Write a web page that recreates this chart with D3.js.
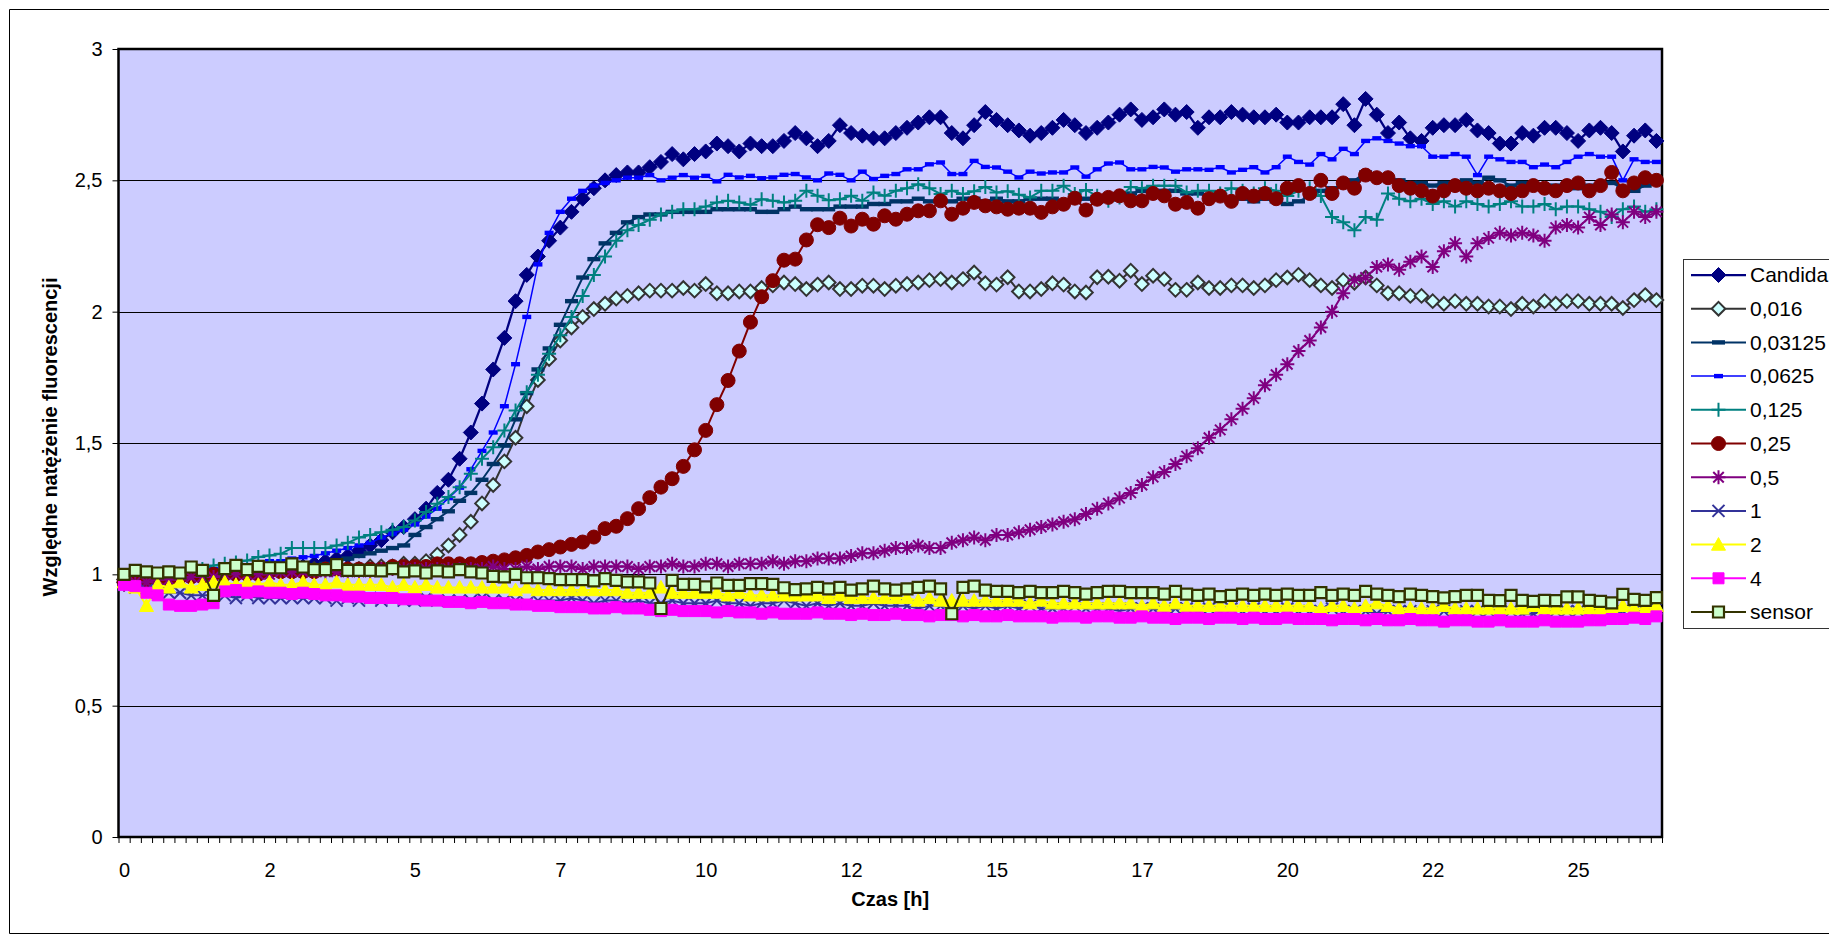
<!DOCTYPE html>
<html>
<head>
<meta charset="utf-8">
<script src="https://cdn.jsdelivr.net/npm/d3@7"></script>
<style>
  body { margin: 0; background: #fff; }
  svg { display: block; }
  text { font-family: "Liberation Sans", Arial, sans-serif; fill: #000; }
</style>
</head>
<body>
<svg id="chart" width="1829" height="943"></svg>
<script>
// Fluorescence readings, one value per sampling interval (138 samples)
const candida = [0.97,0.96,0.97,0.97,0.98,0.98,0.99,0.99,1.00,1.00,
1.00,1.01,1.01,1.02,1.02,1.03,1.03,1.04,1.05,1.06,
1.07,1.09,1.11,1.13,1.16,1.18,1.21,1.25,1.31,1.36,
1.44,1.54,1.65,1.78,1.90,2.04,2.14,2.21,2.27,2.32,
2.38,2.43,2.47,2.50,2.52,2.53,2.53,2.55,2.57,2.60,
2.58,2.60,2.61,2.64,2.63,2.61,2.64,2.63,2.63,2.65,
2.68,2.66,2.63,2.65,2.71,2.68,2.67,2.66,2.66,2.68,
2.70,2.72,2.74,2.74,2.68,2.66,2.71,2.76,2.73,2.71,
2.69,2.67,2.68,2.70,2.73,2.71,2.68,2.70,2.72,2.75,
2.77,2.73,2.74,2.77,2.75,2.76,2.70,2.74,2.74,2.76,
2.75,2.74,2.74,2.75,2.72,2.72,2.74,2.74,2.74,2.79,
2.71,2.81,2.75,2.68,2.72,2.66,2.65,2.70,2.71,2.71,
2.73,2.69,2.68,2.64,2.64,2.68,2.67,2.70,2.70,2.68,
2.65,2.69,2.70,2.68,2.61,2.67,2.69,2.65];

const c0016 = [0.98,0.98,0.98,0.99,0.99,0.99,1.00,1.00,1.00,1.00,
1.00,1.00,1.01,1.01,1.01,1.01,1.01,1.02,1.02,1.02,
1.02,1.02,1.03,1.03,1.03,1.04,1.04,1.05,1.075,1.11,
1.15,1.20,1.27,1.34,1.43,1.52,1.64,1.74,1.82,1.89,
1.94,1.98,2.01,2.03,2.05,2.06,2.07,2.08,2.08,2.08,
2.09,2.08,2.105,2.07,2.07,2.077,2.077,2.09,2.10,2.111,
2.105,2.086,2.103,2.111,2.086,2.086,2.099,2.099,2.086,2.099,
2.105,2.111,2.12,2.124,2.111,2.124,2.149,2.108,2.103,2.131,
2.077,2.077,2.086,2.108,2.103,2.077,2.073,2.131,2.133,2.118,
2.156,2.105,2.137,2.124,2.083,2.083,2.111,2.09,2.09,2.10,
2.10,2.09,2.10,2.12,2.13,2.14,2.12,2.10,2.09,2.12,
2.11,2.13,2.10,2.07,2.07,2.06,2.06,2.04,2.03,2.04,
2.03,2.03,2.02,2.02,2.01,2.03,2.02,2.04,2.03,2.04,
2.04,2.03,2.03,2.03,2.014,2.044,2.063,2.044];

const c03125 = [0.97,0.97,0.97,0.98,0.98,0.98,0.99,0.99,0.99,1.00,
1.00,1.00,1.00,1.01,1.01,1.02,1.02,1.03,1.04,1.05,
1.06,1.07,1.08,1.09,1.10,1.11,1.15,1.18,1.21,1.24,
1.28,1.31,1.36,1.42,1.49,1.59,1.69,1.78,1.86,1.95,
2.04,2.13,2.20,2.26,2.30,2.34,2.36,2.37,2.37,2.38,
2.38,2.38,2.38,2.39,2.39,2.39,2.39,2.38,2.38,2.39,
2.40,2.39,2.39,2.39,2.40,2.40,2.40,2.41,2.41,2.42,
2.42,2.43,2.42,2.42,2.42,2.43,2.43,2.42,2.43,2.42,
2.42,2.43,2.43,2.43,2.42,2.42,2.43,2.42,2.43,2.43,
2.45,2.46,2.45,2.46,2.46,2.45,2.45,2.44,2.44,2.43,
2.43,2.42,2.43,2.42,2.41,2.42,2.44,2.46,2.47,2.48,
2.50,2.53,2.52,2.51,2.50,2.49,2.49,2.48,2.49,2.48,
2.50,2.49,2.51,2.50,2.48,2.49,2.48,2.47,2.48,2.48,
2.47,2.48,2.48,2.49,2.47,2.46,2.48,2.49];

const c0625 = [0.98,0.98,0.99,0.99,1.00,1.00,1.01,1.01,1.02,1.02,
1.03,1.03,1.04,1.05,1.05,1.06,1.065,1.07,1.08,1.09,
1.10,1.11,1.12,1.14,1.155,1.17,1.19,1.22,1.25,1.29,
1.33,1.40,1.47,1.54,1.64,1.80,1.98,2.18,2.30,2.38,
2.43,2.46,2.48,2.49,2.50,2.51,2.51,2.52,2.50,2.51,
2.52,2.51,2.517,2.496,2.521,2.511,2.517,2.508,2.511,2.521,
2.524,2.511,2.50,2.526,2.521,2.50,2.533,2.505,2.517,2.524,
2.542,2.542,2.561,2.568,2.524,2.524,2.574,2.551,2.549,2.533,
2.511,2.533,2.526,2.53,2.53,2.549,2.514,2.542,2.564,2.568,
2.542,2.542,2.551,2.549,2.533,2.542,2.542,2.54,2.55,2.53,
2.54,2.55,2.53,2.55,2.59,2.57,2.56,2.60,2.58,2.62,
2.60,2.65,2.66,2.65,2.64,2.63,2.63,2.59,2.59,2.60,
2.59,2.52,2.59,2.58,2.57,2.57,2.55,2.56,2.55,2.57,
2.59,2.60,2.59,2.59,2.50,2.58,2.57,2.57];

const c125 = [0.97,0.98,0.99,0.99,1.00,1.00,1.01,1.02,1.034,1.04,
1.045,1.053,1.066,1.072,1.078,1.10,1.10,1.10,1.10,1.11,
1.12,1.14,1.15,1.16,1.17,1.18,1.205,1.237,1.269,1.294,
1.332,1.383,1.44,1.484,1.548,1.624,1.693,1.76,1.84,1.91,
1.98,2.06,2.14,2.21,2.27,2.31,2.33,2.35,2.37,2.38,
2.39,2.39,2.40,2.416,2.422,2.416,2.407,2.428,2.422,2.416,
2.422,2.46,2.441,2.424,2.428,2.441,2.422,2.454,2.441,2.46,
2.47,2.485,2.47,2.448,2.46,2.448,2.458,2.475,2.454,2.458,
2.445,2.435,2.46,2.46,2.479,2.448,2.463,2.441,2.422,2.435,
2.475,2.47,2.479,2.479,2.479,2.454,2.46,2.46,2.45,2.47,
2.46,2.45,2.47,2.46,2.44,2.46,2.47,2.44,2.36,2.34,
2.31,2.36,2.35,2.45,2.43,2.42,2.43,2.41,2.42,2.40,
2.42,2.41,2.40,2.41,2.42,2.40,2.40,2.41,2.39,2.40,
2.40,2.39,2.38,2.36,2.39,2.40,2.38,2.39];

const c25 = [0.97,0.97,0.98,0.98,0.98,0.99,0.99,0.99,1.00,1.00,
1.00,1.00,1.00,1.01,1.01,1.01,1.01,1.01,1.02,1.02,
1.02,1.02,1.02,1.02,1.03,1.03,1.03,1.03,1.04,1.04,
1.04,1.04,1.045,1.05,1.055,1.063,1.072,1.085,1.094,1.104,
1.114,1.123,1.142,1.174,1.183,1.212,1.25,1.292,1.332,1.364,
1.411,1.474,1.548,1.646,1.738,1.85,1.96,2.057,2.118,2.196,
2.20,2.273,2.331,2.32,2.356,2.326,2.352,2.333,2.365,2.352,
2.371,2.384,2.384,2.422,2.371,2.394,2.416,2.403,2.399,2.39,
2.394,2.394,2.378,2.399,2.409,2.432,2.387,2.428,2.435,2.441,
2.422,2.422,2.45,2.441,2.409,2.416,2.394,2.43,2.44,2.42,
2.45,2.44,2.45,2.43,2.47,2.48,2.45,2.50,2.45,2.49,
2.47,2.52,2.51,2.51,2.48,2.47,2.46,2.44,2.46,2.48,
2.47,2.46,2.47,2.46,2.45,2.46,2.48,2.47,2.46,2.48,
2.49,2.46,2.48,2.53,2.46,2.49,2.51,2.50];

const c5 = [0.96,0.97,0.97,0.98,0.98,0.98,0.99,0.99,0.99,1.00,
1.00,1.00,1.00,1.00,1.01,1.01,1.01,1.01,1.01,1.01,
1.01,1.01,1.01,1.02,1.02,1.02,1.02,1.02,1.02,1.02,
1.02,1.02,1.02,1.03,1.02,1.02,1.03,1.02,1.03,1.03,
1.03,1.02,1.03,1.03,1.03,1.03,1.02,1.03,1.03,1.04,
1.03,1.03,1.04,1.04,1.03,1.04,1.04,1.04,1.05,1.04,
1.05,1.05,1.06,1.06,1.06,1.07,1.08,1.08,1.09,1.10,
1.10,1.11,1.10,1.10,1.12,1.13,1.14,1.13,1.15,1.15,
1.16,1.17,1.18,1.19,1.20,1.21,1.23,1.25,1.27,1.29,
1.31,1.34,1.37,1.39,1.42,1.45,1.48,1.52,1.55,1.59,
1.63,1.67,1.72,1.76,1.80,1.85,1.89,1.94,2.00,2.07,
2.12,2.13,2.17,2.18,2.16,2.19,2.21,2.17,2.23,2.26,
2.21,2.26,2.28,2.30,2.29,2.30,2.29,2.27,2.32,2.33,
2.32,2.36,2.33,2.37,2.34,2.38,2.36,2.38];

const c1 = [0.96,0.95,0.94,0.93,0.93,0.93,0.92,0.92,0.92,0.92,
0.91,0.92,0.91,0.91,0.91,0.91,0.91,0.91,0.91,0.90,
0.91,0.90,0.91,0.90,0.91,0.90,0.90,0.91,0.90,0.90,
0.90,0.90,0.91,0.90,0.90,0.90,0.89,0.90,0.90,0.90,
0.91,0.90,0.89,0.90,0.90,0.89,0.90,0.89,0.89,0.90,
0.89,0.89,0.89,0.90,0.89,0.89,0.88,0.89,0.89,0.90,
0.89,0.88,0.89,0.88,0.89,0.88,0.88,0.89,0.88,0.88,
0.88,0.87,0.88,0.88,0.87,0.88,0.87,0.88,0.87,0.88,
0.87,0.88,0.87,0.87,0.87,0.88,0.87,0.87,0.87,0.86,
0.87,0.87,0.87,0.86,0.87,0.87,0.86,0.87,0.86,0.87,
0.86,0.87,0.86,0.86,0.87,0.86,0.86,0.86,0.87,0.86,
0.86,0.86,0.85,0.86,0.86,0.86,0.85,0.86,0.86,0.85,
0.86,0.86,0.86,0.87,0.86,0.85,0.85,0.86,0.86,0.86,
0.86,0.86,0.87,0.85,0.86,0.86,0.86,0.87];

const c2 = [0.97,0.95,0.88,0.96,0.95,0.97,0.95,0.96,0.97,0.97,
0.96,0.97,0.96,0.97,0.96,0.96,0.97,0.96,0.96,0.97,
0.96,0.96,0.96,0.96,0.95,0.96,0.95,0.96,0.95,0.95,
0.95,0.95,0.95,0.95,0.95,0.94,0.95,0.94,0.94,0.94,
0.94,0.94,0.94,0.94,0.94,0.93,0.93,0.93,0.95,0.93,
0.93,0.93,0.93,0.93,0.92,0.93,0.92,0.92,0.92,0.92,
0.92,0.92,0.92,0.91,0.92,0.91,0.91,0.91,0.91,0.91,
0.91,0.90,0.91,0.90,0.90,0.90,0.90,0.90,0.90,0.90,
0.90,0.89,0.90,0.89,0.89,0.89,0.89,0.89,0.89,0.89,
0.89,0.88,0.89,0.88,0.89,0.88,0.88,0.88,0.88,0.88,
0.88,0.88,0.88,0.88,0.88,0.88,0.88,0.87,0.88,0.88,
0.87,0.88,0.89,0.88,0.87,0.87,0.87,0.87,0.88,0.87,
0.87,0.87,0.87,0.87,0.87,0.87,0.88,0.87,0.87,0.87,
0.87,0.87,0.87,0.87,0.88,0.87,0.87,0.88];

const c4 = [0.96,0.955,0.93,0.92,0.885,0.88,0.88,0.885,0.89,0.935,
0.94,0.93,0.935,0.93,0.93,0.925,0.93,0.925,0.92,0.92,
0.915,0.915,0.91,0.91,0.91,0.905,0.905,0.90,0.90,0.895,
0.895,0.89,0.895,0.89,0.89,0.885,0.885,0.88,0.88,0.875,
0.875,0.875,0.87,0.87,0.875,0.87,0.87,0.865,0.86,0.865,
0.86,0.86,0.86,0.855,0.86,0.855,0.855,0.85,0.855,0.85,
0.85,0.85,0.855,0.85,0.85,0.845,0.85,0.845,0.845,0.85,
0.845,0.845,0.84,0.845,0.845,0.84,0.845,0.84,0.84,0.845,
0.84,0.84,0.84,0.835,0.84,0.84,0.835,0.84,0.84,0.835,
0.835,0.84,0.835,0.835,0.83,0.835,0.835,0.83,0.835,0.835,
0.83,0.835,0.83,0.83,0.835,0.83,0.83,0.83,0.825,0.83,
0.83,0.825,0.83,0.825,0.825,0.83,0.825,0.825,0.82,0.825,
0.825,0.82,0.82,0.825,0.82,0.82,0.82,0.825,0.82,0.82,
0.82,0.825,0.825,0.83,0.83,0.835,0.83,0.84];

const sensor = [1.00,1.015,1.009,1.005,1.009,1.005,1.028,1.015,0.92,1.022,
1.034,1.018,1.03,1.025,1.025,1.04,1.028,1.018,1.018,1.037,
1.015,1.015,1.015,1.013,1.022,1.009,1.013,1.005,1.013,1.009,
1.018,1.009,1.005,0.992,0.99,1.0,0.987,0.987,0.984,0.98,
0.98,0.98,0.975,0.984,0.977,0.971,0.971,0.967,0.87,0.977,
0.962,0.962,0.952,0.967,0.958,0.958,0.965,0.965,0.962,0.949,
0.942,0.945,0.95,0.945,0.95,0.94,0.945,0.955,0.945,0.94,
0.945,0.95,0.955,0.945,0.85,0.95,0.955,0.94,0.935,0.935,
0.93,0.935,0.93,0.93,0.935,0.93,0.925,0.93,0.935,0.935,
0.93,0.93,0.93,0.925,0.935,0.925,0.92,0.925,0.915,0.92,
0.925,0.92,0.925,0.92,0.925,0.92,0.92,0.93,0.92,0.925,
0.92,0.935,0.925,0.92,0.915,0.925,0.92,0.915,0.91,0.915,
0.92,0.92,0.901,0.90,0.92,0.901,0.897,0.901,0.90,0.914,
0.914,0.901,0.897,0.891,0.924,0.905,0.901,0.911];

// Series names as shown in the legend, in drawing order
const seriesNames = ["Candida", "0,016", "0,03125", "0,0625", "0,125", "0,25", "0,5", "1", "2", "4", "sensor"];
const seriesValues = [candida, c0016, c03125, c0625, c125, c25, c5, c1, c2, c4, sensor];

// Time axis: one label every 13 samples
const timeLabels = ["0", "2", "5", "7", "10", "12", "15", "17", "20", "22", "25"];
const labelEvery = 13;
const yTicks = [0, 0.5, 1, 1.5, 2, 2.5, 3];

// Visual styling per series
const styles = [
  { line: "#000080", width: 2.25, marker: "diamond",  fill: "#000080", stroke: "#000080", sw: 1, size: 7.5 },
  { line: "#333333", width: 2,    marker: "diamond",  fill: "#CCFFFF", stroke: "#333333", sw: 2, size: 6.8 },
  { line: "#003366", width: 2,    marker: "dash",     fill: "#003366", stroke: "none",    sw: 0, size: 6.5 },
  { line: "#0000FF", width: 1.5,  marker: "dash",     fill: "#0000FF", stroke: "none",    sw: 0, size: 4.5 },
  { line: "#008080", width: 2,    marker: "plus",     fill: "none",    stroke: "#008080", sw: 2, size: 7 },
  { line: "#800000", width: 2,    marker: "circle",   fill: "#800000", stroke: "#800000", sw: 1, size: 7 },
  { line: "#800080", width: 2,    marker: "star",     fill: "none",    stroke: "#800080", sw: 2, size: 7 },
  { line: "#333399", width: 2,    marker: "x",        fill: "none",    stroke: "#333399", sw: 2, size: 6 },
  { line: "#FFFF00", width: 2,    marker: "triangle", fill: "#FFFF00", stroke: "#FFFF00", sw: 1, size: 7 },
  { line: "#FF00FF", width: 2,    marker: "square",   fill: "#FF00FF", stroke: "#FF00FF", sw: 1, size: 5.5 },
  { line: "#333300", width: 2,    marker: "square",   fill: "#CCFFCC", stroke: "#333300", sw: 2.2, size: 5.5 }
];

function markerPath(type, s) {
  switch (type) {
    case "diamond":  return `M0,${-s}L${s},0L0,${s}L${-s},0Z`;
    case "square":   return `M${-s},${-s}H${s}V${s}H${-s}Z`;
    case "triangle": return `M0,${-s}L${s},${s * 0.8}L${-s},${s * 0.8}Z`;
    case "circle":   return `M${s},0A${s},${s} 0 1,1 ${-s},0A${s},${s} 0 1,1 ${s},0Z`;
    case "dash":     return `M${-s},-2.2H${s}V2.2H${-s}Z`;
    case "plus":     return `M${-s},0H${s}M0,${-s}V${s}`;
    case "x":        return `M${-s},${-s}L${s},${s}M${-s},${s}L${s},${-s}`;
    case "star": {
      const d = s * 0.75;
      return `M${-s},0H${s}M0,${-s}V${s}M${-d},${-d}L${d},${d}M${-d},${d}L${d},${-d}`;
    }
  }
}

const svg = d3.select("#chart");
const L = 118.5, R = 1662, T = 49, B = 837;
const n = candida.length;

const x = d3.scalePoint().domain(d3.range(n)).range([L, R]).padding(0.5);
const xEdge = d3.scaleLinear().domain([0, n]).range([L, R]);
const y = d3.scaleLinear().domain([0, 3]).range([B, T]);

// Chart frame
svg.append("path")
  .attr("d", "M1829,9.5H9.5V933.5H1829")
  .attr("fill", "none").attr("stroke", "#000").attr("stroke-width", 1);

// Plot area
svg.append("rect")
  .attr("x", L).attr("y", T).attr("width", R - L).attr("height", B - T)
  .attr("fill", "#CCCCFF");

svg.append("g").selectAll("line")
  .data(yTicks.filter(v => v > 0 && v < 3))
  .join("line")
  .attr("x1", L).attr("x2", R)
  .attr("y1", d => Math.round(y(d)) + 0.5).attr("y2", d => Math.round(y(d)) + 0.5)
  .attr("stroke", "#000").attr("stroke-width", 1);

svg.append("rect")
  .attr("x", L).attr("y", T).attr("width", R - L).attr("height", B - T)
  .attr("fill", "none").attr("stroke", "#000").attr("stroke-width", 2.5);

// Y axis
const yAxis = svg.append("g")
  .attr("transform", `translate(${L},0)`)
  .call(d3.axisLeft(y).tickValues(yTicks).tickSize(6).tickPadding(10)
    .tickFormat(d => String(d).replace(".", ",")));
yAxis.select(".domain").remove();
yAxis.selectAll("text").attr("font-size", 20).attr("font-family", "Liberation Sans, Arial, sans-serif");
yAxis.selectAll("line").attr("stroke", "#000");

// X axis: tick marks at sample boundaries, labels under every 13th sample
const xTicks = svg.append("g")
  .attr("transform", `translate(0,${B})`)
  .call(d3.axisBottom(xEdge).tickValues(d3.range(n + 1)).tickSize(6).tickFormat(""));
xTicks.select(".domain").remove();
xTicks.selectAll("line").attr("stroke", "#000");

const labelIdx = timeLabels.map((_, k) => k * labelEvery);
const xLabels = svg.append("g")
  .attr("transform", `translate(0,${B})`)
  .call(d3.axisBottom(x).tickValues(labelIdx).tickSize(0).tickPadding(26)
    .tickFormat((d, k) => timeLabels[k]));
xLabels.select(".domain").remove();
xLabels.selectAll("text").attr("font-size", 20).attr("font-family", "Liberation Sans, Arial, sans-serif");

// Axis titles
svg.append("text")
  .attr("x", (L + R) / 2).attr("y", 906)
  .attr("text-anchor", "middle")
  .attr("font-size", 20).attr("font-weight", "bold")
  .text("Czas [h]");

svg.append("text")
  .attr("transform", "translate(56.5,437) rotate(-90)")
  .attr("text-anchor", "middle")
  .attr("font-size", 20).attr("font-weight", "bold")
  .text("Względne natężenie fluorescencji");

// Series
const line = d3.line().x((d, i) => x(i)).y(d => y(d));
seriesValues.forEach((vals, k) => {
  const st = styles[k];
  const g = svg.append("g").attr("class", "series");
  g.append("path")
    .attr("d", line(vals))
    .attr("fill", "none")
    .attr("stroke", st.line)
    .attr("stroke-width", st.width)
    .attr("stroke-linejoin", "round");
  g.selectAll("path.mk")
    .data(vals)
    .join("path")
    .attr("class", "mk")
    .attr("transform", (d, i) => `translate(${x(i)},${y(d)})`)
    .attr("d", markerPath(st.marker, st.size))
    .attr("fill", st.fill)
    .attr("stroke", st.stroke)
    .attr("stroke-width", st.sw);
});

// Legend
const lg = svg.append("g");
lg.append("rect")
  .attr("x", 1683.5).attr("y", 259.5).attr("width", 200).attr("height", 369)
  .attr("fill", "#fff").attr("stroke", "#333").attr("stroke-width", 1);
const entries = lg.selectAll("g.entry")
  .data(seriesNames)
  .join("g")
  .attr("class", "entry")
  .attr("transform", (d, i) => `translate(0,${275 + i * 33.7})`);
entries.append("line")
  .attr("x1", 1691).attr("x2", 1746)
  .attr("stroke", (d, i) => styles[i].line)
  .attr("stroke-width", (d, i) => styles[i].width);
entries.append("path")
  .attr("transform", "translate(1718.5,0)")
  .attr("d", (d, i) => markerPath(styles[i].marker, styles[i].size))
  .attr("fill", (d, i) => styles[i].fill)
  .attr("stroke", (d, i) => styles[i].stroke)
  .attr("stroke-width", (d, i) => styles[i].sw);
entries.append("text")
  .attr("x", 1750).attr("dy", "0.35em")
  .attr("font-size", 21)
  .text(d => d);
</script>
</body>
</html>
